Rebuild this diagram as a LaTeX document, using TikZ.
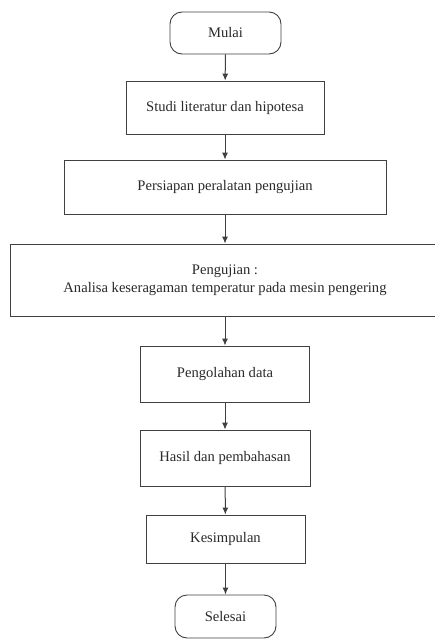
\documentclass[tikz,border=0pt]{standalone}
\usepackage{fontspec}
\setmainfont{Liberation Serif}
\usetikzlibrary{arrows.meta}
\definecolor{ln}{HTML}{404040}
\definecolor{tx}{HTML}{2A2A2A}
\tikzset{
  box/.style={draw=ln, line width=0.9pt, fill=white, inner sep=0pt, align=center, text=tx, font=\fontsize{14.6}{18}\selectfont},
  term/.style={box, rounded corners=12pt},
  conn/.style={draw=ln, line width=1pt, -{Latex[length=7pt,width=6pt]}}
}
\begin{document}
\begin{tikzpicture}[x=1pt,y=-1pt]
\useasboundingbox (0,0) rectangle (435,640);
\clip (0,0) rectangle (435,640);
\node[term, minimum width=111pt, minimum height=42pt] (mulai) at (225.5,33) {Mulai};
\node[box, minimum width=198pt, minimum height=53pt] (studi) at (225,107.5) {Studi literatur dan hipotesa};
\node[box, minimum width=322pt, minimum height=54pt] (persiapan) at (225,187) {Persiapan peralatan pengujian};
\node[box, minimum width=429pt, minimum height=72pt] (pengujian) at (225,280) {Pengujian :\\Analisa keseragaman temperatur pada mesin pengering};
\node[box, minimum width=169pt, minimum height=56pt] (olah) at (225,374) {Pengolahan data};
\node[box, minimum width=170pt, minimum height=56pt] (hasil) at (225,458) {Hasil dan pembahasan};
\node[box, minimum width=159pt, minimum height=48pt] (kesimpulan) at (225.5,539) {Kesimpulan};
\node[term, minimum width=101pt, minimum height=43pt] (selesai) at (225.5,616.5) {Selesai};
\draw[conn] (mulai) -- (studi);
\draw[conn] (studi) -- (persiapan);
\draw[conn] (persiapan) -- (pengujian);
\draw[conn] (pengujian) -- (olah);
\draw[conn] (olah) -- (hasil);
\draw[conn] (hasil) -- (kesimpulan);
\draw[conn] (kesimpulan) -- (selesai);
\end{tikzpicture}
\end{document}
